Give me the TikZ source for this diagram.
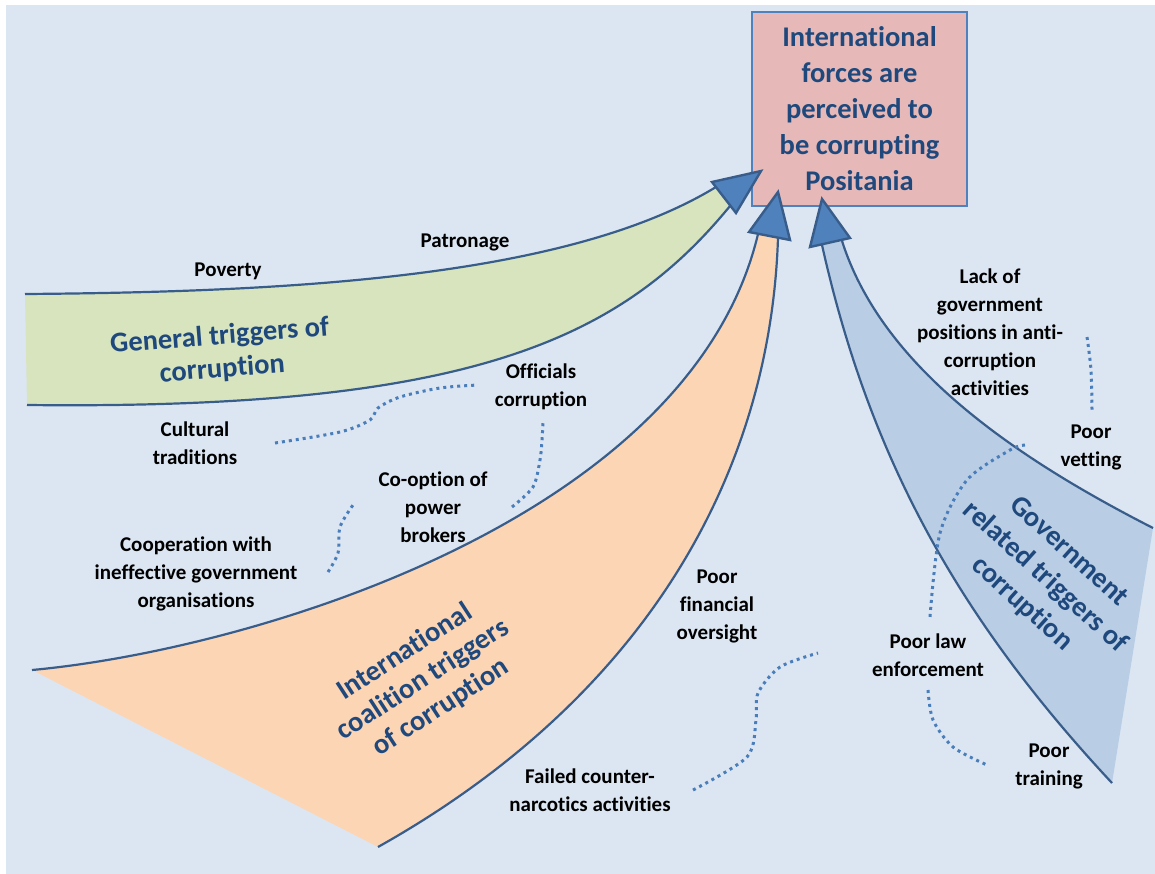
\documentclass[tikz,border=0pt]{standalone}
\usepackage{fontspec}
\setmainfont{Carlito}[Ligatures=NoCommon]
\definecolor{bg}{HTML}{DCE6F2}
\definecolor{genfill}{HTML}{D7E4BD}
\definecolor{coalfill}{HTML}{FCD5B5}
\definecolor{govfill}{HTML}{B9CDE5}
\definecolor{goalfill}{HTML}{E6B9B8}
\definecolor{goaledge}{HTML}{4F81BD}
\definecolor{headblue}{HTML}{4F81BD}
\definecolor{edgeblue}{HTML}{385D8A}
\definecolor{titleblue}{HTML}{1F497D}
\definecolor{dotblue}{HTML}{4A7EBB}
\begin{document}
\begin{tikzpicture}[x=1pt,y=-1pt,
  edge/.style={draw=edgeblue,line width=2.2pt},
  headtri/.style={fill=headblue,draw=edgeblue,line width=2.4pt,line join=miter},
  lbl/.style={font=\fontsize{21}{28}\selectfont\bfseries,align=center,text=black,inner sep=0pt},
  ttl/.style={font=\fontsize{28.5}{33}\selectfont\bfseries,align=center,text=titleblue,inner sep=0pt},
  dots/.style={draw=dotblue,line width=3pt,dash pattern=on 3pt off 4pt}]
\useasboundingbox (0,0) rectangle (1155,874);
\fill[bg] (6,5) rectangle (1155,874);

% general triggers band
\fill[genfill] (25,294) .. controls (300,292) and (570,276) .. (716,187)
  -- (730,206) .. controls (620,340) and (470,410) .. (27,405) -- cycle;
\draw[edge] (25,294) .. controls (300,292) and (570,276) .. (716,187);
\draw[edge] (730,206) .. controls (620,340) and (470,410) .. (27,405);

% coalition triggers wedge
\fill[coalfill] (32,670) .. controls (250,650) and (690,520) .. (758,234)
  -- (778,238) .. controls (770,480) and (640,700) .. (378,847) -- cycle;
\draw[edge] (32,670) .. controls (250,650) and (690,520) .. (758,234);
\draw[edge] (778,238) .. controls (770,480) and (640,700) .. (378,847);

% government triggers wedge
\fill[govfill] (842,241) .. controls (880,360) and (1000,450) .. (1153,528)
  -- (1112,783) .. controls (960,620) and (870,460) .. (822,245) -- cycle;
\draw[edge] (842,241) .. controls (880,360) and (1000,450) .. (1153,528);
\draw[edge] (1112,783) .. controls (960,620) and (870,460) .. (822,245);

% outcome box
\node[draw=goaledge,fill=goalfill,line width=2.8pt,minimum width=215pt,minimum height=194pt,
  font=\fontsize{28.5}{36}\selectfont\bfseries,text=titleblue,align=center,inner sep=0pt]
  (goal) at (859.5,109) {International\\forces are\\perceived to\\be corrupting\\Positania};

% arrow heads
\filldraw[headtri] (761,171) -- (712,182) -- (736,213) -- cycle;
\filldraw[headtri] (778,192) -- (749,232) -- (790,240) -- cycle;
\filldraw[headtri] (822,199) -- (810,247) -- (850,238) -- cycle;

% dotted links
\draw[dots] plot[smooth] coordinates {(275,443) (340,432) (370,420) (378,408) (400,397) (440,388) (478,385)};
\draw[dots] plot[smooth] coordinates {(512,507) (533,487) (540,460) (542,440) (543,422)};
\draw[dots] plot[smooth] coordinates {(328,572) (338,553) (340,527) (353,505)};
\draw[dots] plot[smooth] coordinates {(693,790) (747,757) (756,720) (758,693) (780,667) (818,653)};
\draw[dots] plot[smooth] coordinates {(1087,337) (1091,370) (1092,410)};
\draw[dots] plot[smooth] coordinates {(1025,445) (1010,450) (967,480) (940,533) (930,617)};
\draw[dots] plot[smooth] coordinates {(928,690) (933,720) (953,747) (987,765)};

% group titles
\node[ttl,rotate=4.5] (gen) at (221,353) {General triggers of\\corruption};
\node[ttl,rotate=33] (coal) at (423,680) {International\\coalition triggers\\of corruption};
\node[ttl,rotate=-42,font=\fontsize{28.5}{35}\selectfont\bfseries] (gov) at (1045,578) {Government\\related triggers of\\corruption};

% trigger labels
\node[lbl] (pov) at (228,271) {Poverty};
\node[lbl] (pat) at (465,242) {Patronage};
\node[lbl] (cul) at (195,443) {Cultural\\traditions};
\node[lbl] (off) at (541,387) {Officials\\corruption};
\node[lbl] (coop) at (433,507) {Co-option of\\power\\brokers};
\node[lbl] (ineff) at (196,574) {Cooperation with\\ineffective government\\organisations};
\node[lbl] (fin) at (717,606) {Poor\\financial\\oversight};
\node[lbl] (narc) at (590,790) {Failed counter-\\narcotics activities};
\node[lbl] (lack) at (990,332) {Lack of\\government\\positions in anti-\\corruption\\activities};
\node[lbl] (vet) at (1091,447) {Poor\\vetting};
\node[lbl] (law) at (928,655) {Poor law\\enforcement};
\node[lbl] (train) at (1049,766) {Poor\\training};
\end{tikzpicture}
\end{document}
